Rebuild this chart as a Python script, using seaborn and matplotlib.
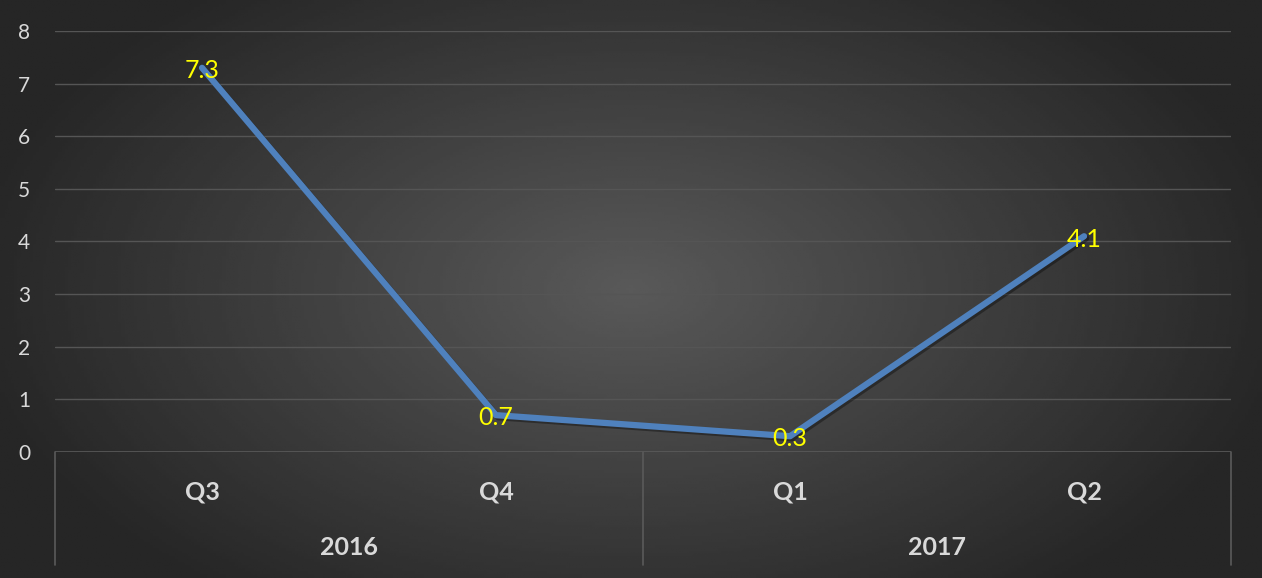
import numpy as np
import pandas as pd
import matplotlib
import seaborn as sns
matplotlib.use("Agg")
import matplotlib.pyplot as plt
import matplotlib.patheffects as pe
from matplotlib.transforms import blended_transform_factory

# chart data
quarters = ['Q3', 'Q4', 'Q1', 'Q2']
years = ['2016', '2016', '2017', '2017']
values = [7.3, 0.7, 0.3, 4.1]
y_ticks = [0, 1, 2, 3, 4, 5, 6, 7, 8]

df = pd.DataFrame({'quarter': quarters, 'year': years, 'value': values})
df['pos'] = np.arange(len(df))

sns.set_style("white")
plt.rcParams['font.family'] = ['Lato', 'DejaVu Sans']

fig = plt.figure(figsize=(12.62, 5.78), dpi=100)

# radial gradient background
bg = fig.add_axes([0, 0, 1, 1], zorder=-10)
gx, gy = np.meshgrid(np.linspace(-1, 1, 400), np.linspace(-1, 1, 200))
r = np.sqrt((gx * 0.95) ** 2 + (gy * 0.75) ** 2)
shade = 0.35 - 0.2 * np.clip(r, 0, 1)
bg.imshow(shade, cmap='gray', vmin=0, vmax=1, aspect='auto', extent=[0, 1, 0, 1])
bg.axis('off')

ax = fig.add_axes([0.0436, 0.218, 0.9319, 0.7284])
ax.patch.set_alpha(0)

sns.lineplot(data=df, x='pos', y='value', ax=ax, color='#4F81BD', linewidth=4.5,
             solid_capstyle='round', zorder=3,
             path_effects=[pe.SimpleLineShadow(offset=(1.5, -1.5), alpha=0.35, shadow_color='black'),
                           pe.Normal()])

for _, row in df.iterrows():
    ax.annotate(f"{row['value']:.1f}", (row['pos'], row['value']), xytext=(0, -2),
                textcoords='offset points', color='#FFFF00', fontsize=18,
                ha='center', va='center', zorder=4)

ax.set_xlim(-0.5, len(df) - 0.5)
ax.set_ylim(0, 8)
ax.set_yticks(y_ticks)
ax.set_yticklabels([str(t) for t in y_ticks], color='#D9D9D9', fontsize=15)
ax.tick_params(axis='y', length=0, pad=18)
ax.set_xticks([])
ax.set_xlabel('')
ax.set_ylabel('')
for t in y_ticks[1:]:
    ax.axhline(t, color='#555555', linewidth=1, zorder=1)
ax.axhline(0, color='#5a5a5a', linewidth=1.2, zorder=1)
for s in ax.spines.values():
    s.set_visible(False)

# two-level category axis
tr = blended_transform_factory(ax.transData, ax.transAxes)
for _, row in df.iterrows():
    ax.text(row['pos'], -0.095, row['quarter'], transform=tr, ha='center', va='center',
            color='#D9D9D9', fontsize=18, fontweight='bold', clip_on=False)

groups = df.groupby('year', sort=False)['pos']
edges = [-0.5]
for yr, p in groups:
    ax.text(p.mean(), -0.228, yr, transform=tr, ha='center', va='center',
            color='#D9D9D9', fontsize=18, fontweight='bold', clip_on=False)
    edges.append(p.max() + 0.5)
for e in edges:
    ax.plot([e, e], [0, -0.268], transform=tr, color='#5a5a5a', linewidth=1.2, clip_on=False)

fig.savefig('out.png', dpi=100)
